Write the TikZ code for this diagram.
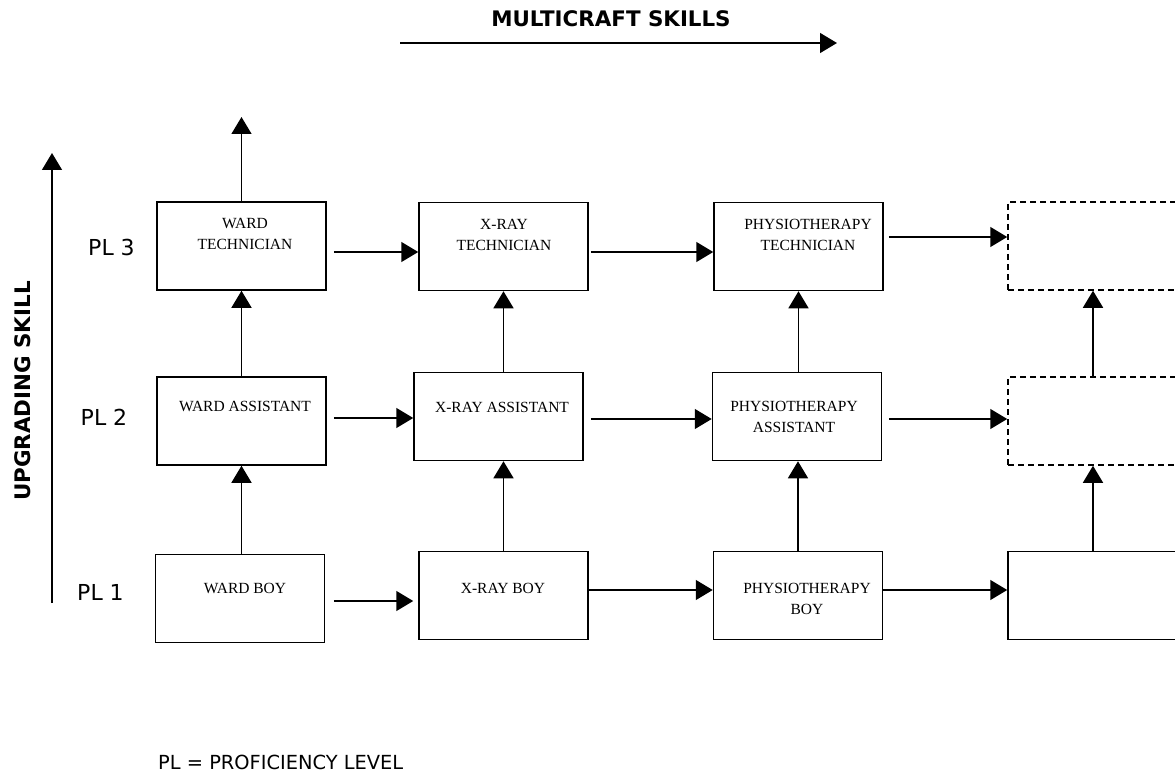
\documentclass[tikz,border=0pt]{standalone}
\usepackage{fontspec}
\setmainfont{Liberation Serif}
\newfontfamily\plfont{DejaVu Sans}
\usetikzlibrary{arrows.meta}

\tikzset{
  job/.style={draw, line width=1.5pt, minimum width=169pt, minimum height=88pt, inner sep=0pt},
  open/.style={job, minimum width=170pt},
  vacant/.style={open, dash pattern=on 6pt off 4pt},
  jobtext/.style={anchor=north, inner sep=0pt, align=center, font=\fontsize{15.5}{21}\selectfont},
  level/.style={inner sep=0pt, font=\plfont\fontsize{22}{26}\selectfont},
  heading/.style={inner sep=0pt, font=\plfont\bfseries\fontsize{21.4}{25}\selectfont},
  arr/.style={-{Triangle[length=17pt,width=20pt]}, line width=1.5pt},
}

\begin{document}
\begin{tikzpicture}[x=1pt,y=-1pt]
  \useasboundingbox (0,0) rectangle (1175,778);
  \clip (0,0) rectangle (1175,778);

  % axes
  \node[heading] (multi) at (611,18.5) {MULTICRAFT SKILLS};
  \coordinate (ms0) at (400,43);
  \coordinate (ms1) at (837,43);
  \draw[arr] (ms0) -- (ms1);
  \coordinate (up0) at (52,603);
  \coordinate (up1) at (52,153);
  \draw[arr] (up0) -- (up1);
  \node[heading, rotate=90] (upgr) at (23,391) {UPGRADING SKILL};

  % levels
  \node[level] (pl3) at (111.5,247.5) {PL 3};
  \node[level] (pl2) at (104,417.5) {PL 2};
  \node[level] (pl1) at (100.5,592) {PL 1};

  % boxes
  \node[job] (wt) at (241.5,246) {};
  \node[job] (xt) at (503.5,246.5) {};
  \node[job] (pt) at (798.5,246.5) {};
  \node[vacant] (ot) at (1093,246) {};
  \node[job] (wa) at (241.5,421) {};
  \node[job] (xa) at (498.5,416.5) {};
  \node[job] (pa) at (797,416.5) {};
  \node[vacant] (om) at (1093,421) {};
  \node[job] (wb) at (240,598.5) {};
  \node[job] (xb) at (503.5,595.5) {};
  \node[job] (pb) at (798,595.5) {};
  \node[open] (ob) at (1093,595.5) {};

  % box texts
  \node[jobtext] (wtt) at (245,218) {WARD\\TECHNICIAN};
  \node[jobtext] (xtt) at (504,219) {X-RAY\\TECHNICIAN};
  \node[jobtext] (ptt) at (808,219) {PHYSIOTHERAPY\\TECHNICIAN};
  \node[jobtext] (wat) at (245,401) {WARD ASSISTANT};
  \node[jobtext] (xat) at (502,402) {X-RAY ASSISTANT};
  \node[jobtext] (pat) at (794,401) {PHYSIOTHERAPY\\ASSISTANT};
  \node[jobtext] (wbt) at (245,583) {WARD BOY};
  \node[jobtext] (xbt) at (503,583) {X-RAY BOY};
  \node[jobtext] (pbt) at (807,583) {PHYSIOTHERAPY\\BOY};

  % upgrading
  \coordinate (wup) at (241.5,117);
  \draw[arr] (wt.north) -- (wup);
  \draw[arr] (wa.south |- wb.north) -- (wa.south);
  \draw[arr] (wa.north) -- (wt.south);
  \draw[arr] (xb.north) -- (xb.north |- xa.south);
  \draw[arr] (xt.south |- xa.north) -- (xt.south);
  \draw[arr] (pb.north) -- (pb.north |- pa.south);
  \draw[arr] (pt.south |- pa.north) -- (pt.south);
  \draw[arr] (ob.north) -- (om.south);
  \draw[arr] (om.north) -- (ot.south);

  % multicraft
  \draw[arr] ([xshift=7pt,yshift=-6pt]wt.east) coordinate (h1) -- (xt.west |- h1);
  \draw[arr] ([xshift=2pt,yshift=-5.5pt]xt.east) coordinate (h2) -- (pt.west |- h2);
  \draw[arr] ([xshift=5pt,yshift=9.5pt]pt.east) coordinate (h3) -- (ot.west |- h3);
  \draw[arr] ([xshift=7pt,yshift=3pt]wa.east) coordinate (h4) -- (xa.west |- h4);
  \draw[arr] ([xshift=7pt,yshift=-2.5pt]xa.east) coordinate (h5) -- (pa.west |- h5);
  \draw[arr] ([xshift=6.5pt,yshift=-2.5pt]pa.east) coordinate (h6) -- (om.west |- h6);
  \draw[arr, shorten >=5pt] ([xshift=8.5pt,yshift=-2.5pt]wb.east) coordinate (h7) -- (xb.west |- h7);
  \draw[arr] ([yshift=5.5pt]xb.east) coordinate (h8) -- (pb.west |- h8);
  \draw[arr] ([yshift=5.5pt]pb.east) coordinate (h9) -- (ob.west |- h9);

  \node[anchor=west, inner sep=0pt, font=\plfont\fontsize{19.4}{23}\selectfont] (key) at (158,762) {PL = PROFICIENCY LEVEL};
\end{tikzpicture}
\end{document}
